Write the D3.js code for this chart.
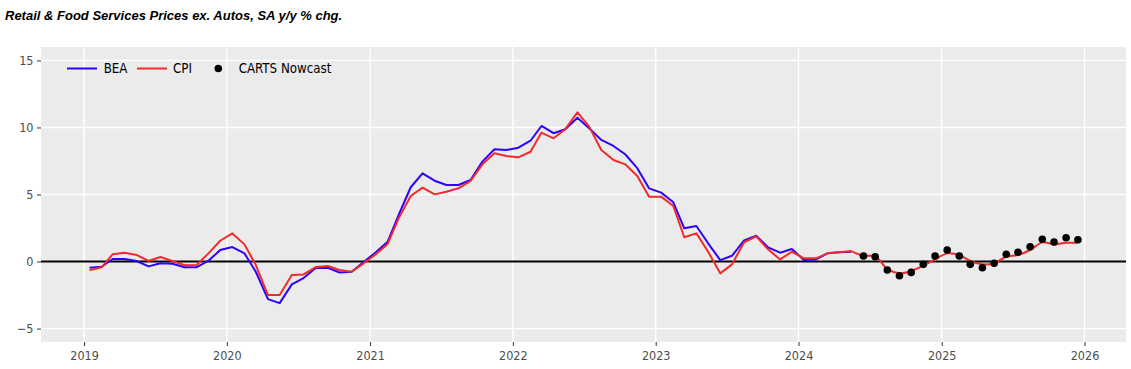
<!DOCTYPE html>
<html>
<head>
<meta charset="utf-8">
<script src="https://cdn.jsdelivr.net/npm/d3@7"></script>
<style>
  html, body { margin: 0; padding: 0; background: #fff; }
  svg { display: block; }
</style>
</head>
<body>
<div id="chart"></div>
<script>
// ---------- DATA ----------
const title = "Retail & Food Services Prices ex. Autos, SA y/y % chg.";
const seriesNames = ["BEA", "CPI", "CARTS Nowcast"];

// monthly, starting Jan 2019
const beaStart = [2019, 0];
const bea = [
  -0.46, -0.39, 0.19, 0.19, 0.04, -0.36, -0.13, -0.16, -0.43, -0.43, 0.06, 0.86,
  1.08, 0.61, -0.76, -2.80, -3.10, -1.70, -1.23, -0.48, -0.46, -0.82, -0.76, -0.05,
  0.68, 1.48, 3.47, 5.54, 6.58, 6.03, 5.71, 5.71, 6.08, 7.45, 8.37, 8.32,
  8.49, 9.01, 10.11, 9.57, 9.87, 10.73, 9.94, 9.07, 8.62, 8.00, 6.96, 5.46,
  5.14, 4.42, 2.48, 2.65, 1.36, 0.11, 0.43, 1.58, 1.92, 1.06, 0.66, 0.93,
  0.11, 0.16, 0.61, 0.69, 0.73
];

// monthly, starting Jan 2019
const cpiStart = [2019, 0];
const cpi = [
  -0.66, -0.43, 0.54, 0.66, 0.49, 0.04, 0.34, 0.04, -0.28, -0.28, 0.61, 1.55,
  2.10, 1.28, -0.26, -2.50, -2.50, -1.01, -0.96, -0.41, -0.33, -0.63, -0.76, -0.15,
  0.53, 1.31, 3.22, 4.89, 5.51, 5.01, 5.21, 5.46, 6.01, 7.25, 8.07, 7.87,
  7.77, 8.19, 9.61, 9.19, 9.87, 11.13, 10.06, 8.32, 7.57, 7.25, 6.38, 4.84,
  4.84, 4.14, 1.81, 2.10, 0.73, -0.88, -0.21, 1.44, 1.88, 0.91, 0.16, 0.73,
  0.24, 0.24, 0.61, 0.69, 0.78, 0.43, 0.38, -0.55, -0.88, -0.70, -0.29, 0.16,
  0.61, 0.49, 0.04, -0.21, -0.13, 0.36, 0.49, 0.86, 1.43, 1.28, 1.40, 1.40
];

// monthly, starting Jun 2024
const nowStart = [2024, 5];
const nowcast = [
  0.41, 0.36, -0.63, -1.06, -0.81, -0.21, 0.41,
  0.86, 0.41, -0.21, -0.46, -0.13, 0.54, 0.69, 1.10, 1.66, 1.46, 1.78, 1.63
];

const xTickYears = [2019, 2020, 2021, 2022, 2023, 2024, 2025, 2026];
const yTicks = [-5, 0, 5, 10, 15];

// ---------- LAYOUT ----------
const W = 1131, H = 369;
const panel = { left: 41, right: 1126, top: 47, bottom: 342 };
const colors = { bea: "#3000ff", cpi: "#f42a2a", now: "#000000" };

const toPoints = (start, vals) => vals.map((v, i) => ({
  date: new Date(Date.UTC(start[0], start[1] + i, 15)),
  value: v
}));
const beaPts = toPoints(beaStart, bea);
const cpiPts = toPoints(cpiStart, cpi);
const nowPts = toPoints(nowStart, nowcast);

const x = d3.scaleUtc()
  .domain([new Date(Date.UTC(2018, 8, 13)), new Date(Date.UTC(2026, 3, 17))])
  .range([panel.left, panel.right]);
const y = d3.scaleLinear()
  .domain([-6, 16])
  .range([panel.bottom, panel.top]);

const svg = d3.select("#chart").append("svg")
  .attr("width", W).attr("height", H);

// title
svg.append("text")
  .attr("x", 5).attr("y", 20)
  .attr("font-family", "Liberation Sans, Arial, sans-serif")
  .attr("font-weight", "bold").attr("font-style", "italic")
  .attr("font-size", 13).attr("fill", "#000")
  .text(title);

// panel background
svg.append("rect")
  .attr("x", panel.left).attr("y", panel.top)
  .attr("width", panel.right - panel.left).attr("height", panel.bottom - panel.top)
  .attr("fill", "#ebebeb");

const xTickDates = xTickYears.map(yr => new Date(Date.UTC(yr, 0, 1)));

// grid
const grid = svg.append("g");
grid.selectAll(".vg").data(xTickDates).enter().append("line")
  .attr("x1", d => x(d)).attr("x2", d => x(d))
  .attr("y1", panel.top).attr("y2", panel.bottom)
  .attr("stroke", "#fff").attr("stroke-width", 1.4);
grid.selectAll(".hg").data(yTicks).enter().append("line")
  .attr("x1", panel.left).attr("x2", panel.right)
  .attr("y1", d => y(d)).attr("y2", d => y(d))
  .attr("stroke", "#fff").attr("stroke-width", 1.4);

// zero line
svg.append("line")
  .attr("x1", panel.left).attr("x2", panel.right)
  .attr("y1", y(0)).attr("y2", y(0))
  .attr("stroke", "#000").attr("stroke-width", 2);

const tickFont = "DejaVu Sans Condensed, DejaVu Sans, sans-serif";

// axes
const xAxis = svg.append("g")
  .attr("transform", `translate(0,${panel.bottom})`)
  .call(d3.axisBottom(x).tickValues(xTickDates).tickFormat(d3.utcFormat("%Y"))
    .tickSize(4).tickPadding(5));
const yAxis = svg.append("g")
  .attr("transform", `translate(${panel.left},0)`)
  .call(d3.axisLeft(y).tickValues(yTicks).tickFormat(d3.format("d"))
    .tickSize(4).tickPadding(3.5));
[xAxis, yAxis].forEach(a => {
  a.select(".domain").remove();
  a.selectAll(".tick line").attr("stroke", "#333").attr("stroke-width", 1);
  a.selectAll(".tick text").attr("fill", "#4d4d4d")
    .attr("font-family", tickFont).attr("font-size", 12.5);
});

// lines
const line = d3.line().x(d => x(d.date)).y(d => y(d.value));
const smooth = d3.line().curve(d3.curveCatmullRom.alpha(0.5))
  .x(d => x(d.date)).y(d => y(d.value));

svg.append("path").datum(beaPts)
  .attr("fill", "none").attr("stroke", colors.bea).attr("stroke-width", 2)
  .attr("stroke-linejoin", "round").attr("d", line);

const splitDate = beaPts[beaPts.length - 1].date;
svg.append("path").datum(cpiPts.filter(d => d.date <= splitDate))
  .attr("fill", "none").attr("stroke", colors.cpi).attr("stroke-width", 2)
  .attr("stroke-linejoin", "round").attr("d", line);
svg.append("path").datum(cpiPts.filter(d => d.date >= splitDate))
  .attr("fill", "none").attr("stroke", colors.cpi).attr("stroke-width", 2)
  .attr("stroke-linejoin", "round").attr("d", smooth);

// nowcast dots
svg.append("g").selectAll("circle").data(nowPts).enter().append("circle")
  .attr("cx", d => x(d.date)).attr("cy", d => y(d.value))
  .attr("r", 3.8).attr("fill", colors.now);

// legend
const legend = svg.append("g").attr("font-family", tickFont).attr("font-size", 13.2);
const legItems = [
  { name: seriesNames[0], type: "line", color: colors.bea, x0: 67, tx: 103.7 },
  { name: seriesNames[1], type: "line", color: colors.cpi, x0: 137, tx: 173 },
  { name: seriesNames[2], type: "dot", color: colors.now, x0: 218.3, tx: 238.7 }
];
legItems.forEach(it => {
  if (it.type === "line") {
    legend.append("line").attr("x1", it.x0).attr("x2", it.x0 + 30)
      .attr("y1", 68.5).attr("y2", 68.5)
      .attr("stroke", it.color).attr("stroke-width", 2);
  } else {
    legend.append("circle").attr("cx", it.x0).attr("cy", 68.5).attr("r", 3.8)
      .attr("fill", it.color);
  }
  legend.append("text").attr("x", it.tx).attr("y", 73).attr("fill", "#000").text(it.name);
});
</script>
</body>
</html>
